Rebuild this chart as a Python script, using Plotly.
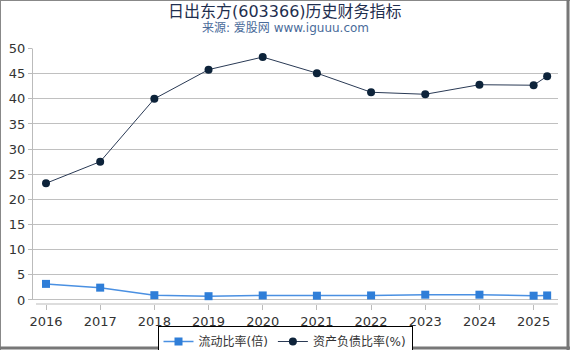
import plotly.graph_objects as go

years = [2016, 2017, 2018, 2019, 2020, 2021, 2022, 2023, 2024, 2025, 2025.25]
current_ratio = [3.2, 2.45, 0.95, 0.75, 0.9, 0.85, 0.9, 1.05, 1.05, 0.85, 0.9]
debt_ratio = [23.2, 27.5, 40.0, 45.8, 48.3, 45.1, 41.3, 40.9, 42.8, 42.7, 44.5]
tick_years = list(range(2016, 2026))
tick_labels = [str(y) for y in tick_years]

W, H = 570, 350
ml, mr, mt, mb = 33, 12, 48, 46
pw, ph = W - ml - mr, H - mt - mb

def px(x):
    return (x - ml) / pw

def py(y):
    return 1 - (y - mt) / ph

fig = go.Figure()
fig.add_trace(go.Scatter(
    x=years, y=current_ratio, name="流动比率(倍)", mode="lines+markers",
    line=dict(color="#4a90e2", width=1.5),
    marker=dict(symbol="square", size=8, color="#2f7ed8"),
))
fig.add_trace(go.Scatter(
    x=years, y=debt_ratio, name="资产负债比率(%)", mode="lines+markers",
    line=dict(color="#2a3a55", width=1),
    marker=dict(symbol="circle", size=8, color="#0d233a"),
))

fig.update_layout(
    width=W, height=H,
    margin=dict(l=ml, r=mr, t=mt, b=mb, autoexpand=False),
    paper_bgcolor="white", plot_bgcolor="white",
    font=dict(family="DejaVu Sans, Noto Sans CJK SC", size=13, color="#333"),
    showlegend=True,
    legend=dict(
        orientation="h", x=0.5, xanchor="center", xref="container",
        y=1 - 326 / H, yanchor="top", yref="container",
        bordercolor="#000", borderwidth=1, bgcolor="white",
        font=dict(size=12, color="#333"), itemwidth=30, tracegroupgap=0,
    ),
    xaxis=dict(
        range=[2015.76, 2025.45], tickvals=tick_years, ticktext=tick_labels,
        showgrid=False, zeroline=False, showline=False,
        ticks="outside", ticklen=5, tickcolor="#bbb", tickfont=dict(size=13, color="#333"),
    ),
    yaxis=dict(
        range=[-0.8, 50.1], tickvals=list(range(0, 51, 5)),
        showgrid=True, gridcolor="#c0c0c0", gridwidth=1, zeroline=False,
        showline=False, ticks="outside", ticklen=4, tickcolor="#bbb",
        tickfont=dict(size=13, color="#333"),
    ),
    annotations=[
        dict(text="日出东方(603366)历史财务指标", xref="paper", yref="paper",
             x=px(285), y=py(11), xanchor="center", yanchor="middle", showarrow=False,
             font=dict(size=16, color="#1f2f4f")),
        dict(text="来源: 爱股网 www.iguuu.com", xref="paper", yref="paper",
             x=px(285), y=py(28), xanchor="center", yanchor="middle", showarrow=False,
             font=dict(size=12, color="#4a6b9a")),
    ],
    shapes=[
        dict(type="line", xref="paper", yref="paper", x0=px(36), x1=px(558), y0=py(304), y1=py(304),
             line=dict(color="#bbb", width=1)),
        dict(type="line", xref="paper", yref="y", x0=px(32.5), x1=px(32.5), y0=0, y1=50,
             line=dict(color="#bbb", width=1)),
        dict(type="line", xref="paper", yref="paper", x0=px(0), x1=px(570), y0=py(0.5), y1=py(0.5),
             line=dict(color="#888", width=1)),
        dict(type="line", xref="paper", yref="paper", x0=px(0.5), x1=px(0.5), y0=py(0), y1=py(350),
             line=dict(color="#888", width=1)),
        dict(type="line", xref="paper", yref="paper", x0=px(568), x1=px(568), y0=py(0), y1=py(350),
             line=dict(color="#777", width=3)),
        dict(type="line", xref="paper", yref="paper", x0=px(0), x1=px(570), y0=py(348), y1=py(348),
             line=dict(color="#777", width=3)),
    ],
)

fig.write_html("out.html")
